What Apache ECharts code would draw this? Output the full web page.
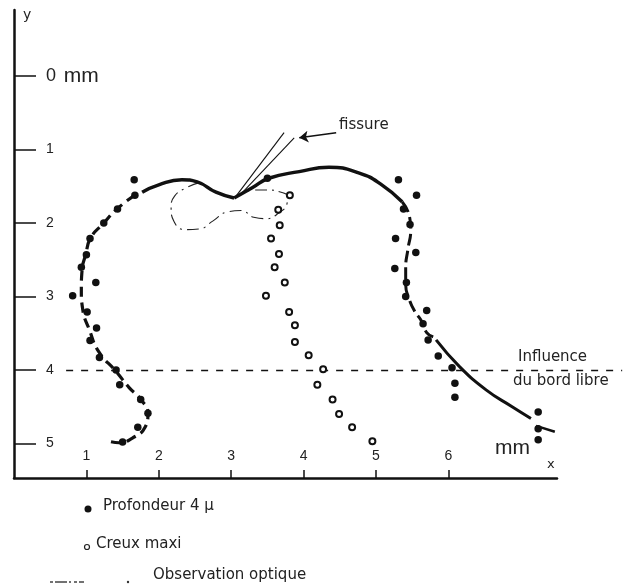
<!DOCTYPE html>
<html><head><meta charset="utf-8">
<script src="https://cdn.jsdelivr.net/npm/echarts@6/dist/echarts.min.js"></script>
<style>html,body{margin:0;padding:0;background:#fff}#c{width:623px;height:587px}</style>
</head><body><div id="c"></div>
<script>
// ---- data (x mm, y mm) ----
const xTicks = [1, 2, 3, 4, 5, 6];
const yTicks = [0, 1, 2, 3, 4, 5];
const profondeur = [[1.66,1.41],[1.67,1.62],[1.43,1.81],[1.24,2.00],[1.05,2.21],[1.00,2.43],[0.93,2.60],[1.13,2.81],[0.81,2.99],[1.01,3.21],[1.14,3.43],[1.05,3.60],[1.18,3.83],[1.41,4.00],[1.46,4.20],[1.75,4.40],[1.85,4.59],[1.71,4.78],[1.50,4.98],[3.50,1.39],[5.31,1.41],[5.56,1.62],[5.38,1.81],[5.47,2.02],[5.27,2.21],[5.55,2.40],[5.26,2.62],[5.42,2.81],[5.41,3.00],[5.70,3.19],[5.65,3.37],[5.72,3.59],[5.86,3.81],[6.05,3.97],[6.09,4.18],[6.09,4.37],[7.24,4.57],[7.24,4.80],[7.24,4.95]];
const creux = [[3.81,1.62],[3.65,1.82],[3.67,2.03],[3.55,2.21],[3.66,2.42],[3.60,2.60],[3.74,2.81],[3.48,2.99],[3.80,3.21],[3.88,3.39],[3.88,3.62],[4.07,3.80],[4.27,3.99],[4.19,4.20],[4.40,4.40],[4.49,4.60],[4.67,4.78],[4.95,4.97]];
const arcLeft = [[1.77,1.58],[2.00,1.48],[2.32,1.41],[2.53,1.44],[2.79,1.58],[3.04,1.66]];
const arcRight = [[3.04,1.66],[3.29,1.52],[3.52,1.39],[3.94,1.30],[4.35,1.24],[4.77,1.32],[5.08,1.48],[5.36,1.71]];
const leftBranch = [[1.67,1.62],[1.42,1.81],[1.24,2.00],[1.06,2.20],[0.99,2.43],[0.94,2.64],[0.93,2.91],[0.95,3.18],[1.04,3.45],[1.17,3.75],[1.41,4.02],[1.59,4.24],[1.75,4.40],[1.85,4.59],[1.81,4.78],[1.63,4.93],[1.45,4.99],[1.31,4.97]];
const rightBranch = [[5.36,1.71],[5.46,1.90],[5.48,2.09],[5.44,2.36],[5.41,2.61],[5.41,2.84],[5.46,3.04],[5.54,3.21],[5.62,3.32],[5.70,3.49],[5.79,3.55]];
const rightLower = [[5.83,3.59],[6.15,3.95],[6.52,4.27],[6.88,4.50],[7.14,4.66]];
const rightTail = [[7.21,4.76],[7.47,4.84]];
const observation = [[2.56,1.45],[2.38,1.52],[2.22,1.63],[2.17,1.79],[2.21,1.98],[2.36,2.09],[2.56,2.08],[2.75,1.97],[2.94,1.85],[3.14,1.83],[3.31,1.92],[3.49,1.94],[3.66,1.86],[3.77,1.74],[3.78,1.64],[3.69,1.58],[3.49,1.55],[3.31,1.55],[3.18,1.58]];
const fissureLines = [[[3.07,1.63],[3.73,0.77]], [[3.15,1.59],[3.87,0.84]]];
const fissureArrow = [[4.45,0.77],[3.94,0.84]];
const bordLibre = [[0.72,4],[8.4,4]];

const INK = '#111';
const chart = echarts.init(document.getElementById('c'), null, {renderer: 'canvas'});
const txt = (x, y, s, size) => ({type:'text', left:x, top:y, style:{text:s, font: size + 'px "DejaVu Sans"', fill:'#222'}});
chart.setOption({
  animation: false,
  backgroundColor: '#fff',
  grid: {left: 14, right: 66, top: 10, bottom: 109},
  xAxis: {
    type: 'value', min: 0, max: 7.5, position: 'bottom',
    axisLine: {onZero: false, lineStyle: {color: INK, width: 2.5}},
    axisTick: {inside: true, length: 8, customValues: xTicks, lineStyle: {color: INK, width: 1.5}},
    axisLabel: {inside: true, margin: 15, customValues: xTicks, color: '#222', fontSize: 14, fontFamily: 'Liberation Sans'},
    splitLine: {show: false}
  },
  yAxis: {
    type: 'value', min: -0.9, max: 5.47, inverse: true,
    axisLine: {onZero: false, lineStyle: {color: INK, width: 2.5}},
    axisTick: {inside: true, length: 22, customValues: yTicks, lineStyle: {color: INK, width: 1.5}},
    axisLabel: {inside: true, margin: 32, customValues: yTicks, color: '#222', fontSize: 14, fontFamily: 'Liberation Sans',
      formatter: v => v === 0 ? '{z|0}  {u|mm}' : String(v),
      rich: {z: {fontSize: 18, fontFamily: 'Liberation Sans', color: '#222'}, u: {fontSize: 21, fontFamily: 'Liberation Sans', color: '#222'}}},
    splitLine: {show: false}
  },
  series: [
    {type:'lines', coordinateSystem:'cartesian2d', clip: false, data: [{coords: bordLibre}], symbol:['none','none'], lineStyle:{color:'#111', width:1.3, type:[7,8], opacity:1}, z:1},
    {type:'line', data: observation, smooth: 0.5, symbol:'none', lineStyle:{color:'#222', width:1.1, type:[12,5,2,5]}},
    {type:'line', data: arcLeft, smooth: 0.5, symbol:'none', lineStyle:{color:INK, width:3.5}},
    {type:'line', data: arcRight, smooth: 0.5, symbol:'none', lineStyle:{color:INK, width:3.5}},
    {type:'line', data: leftBranch, smooth: 0.5, symbol:'none', lineStyle:{color:INK, width:3.2, type:[10,6]}},
    {type:'line', data: rightBranch, smooth: 0.5, symbol:'none', lineStyle:{color:INK, width:3, type:[12,5]}},
    {type:'line', data: rightLower, smooth: 0.5, symbol:'none', lineStyle:{color:INK, width:3}},
    {type:'line', data: rightTail, symbol:'none', lineStyle:{color:INK, width:2.5}},
    {type:'lines', coordinateSystem:'cartesian2d', data: fissureLines.map(c => ({coords: c})), lineStyle:{color:INK, width:1.1, opacity:1}, symbol:['none','none']},
    {type:'lines', coordinateSystem:'cartesian2d', data: [{coords: fissureArrow}], lineStyle:{color:INK, width:1.5, opacity:1}, symbol:['none','arrow'], symbolSize:9},
    {name:'Profondeur 4 µ', type:'scatter', data: profondeur, symbol:'circle', symbolSize:7.5, itemStyle:{color:INK, opacity:1}, z:5},
    {name:'Creux maxi', type:'scatter', data: creux, symbol:'emptyCircle', symbolSize:6, itemStyle:{color:'#111', borderColor:'#111', borderWidth:1.2, opacity:1}, z:5}
  ],
  graphic: [
    txt(23, 8, 'y', 14),
    txt(547, 458, 'x', 13),
    {type:'text', left: 495, top: 438, style:{text:'mm', font:'21px "Liberation Sans"', fill:'#222'}},
    txt(339, 118, 'fissure', 15),
    txt(518, 350, 'Influence', 15),
    txt(513, 374, 'du bord libre', 15),
    {type:'circle', shape:{cx:88, cy:509, r:3.5}, style:{fill:INK}},
    txt(103, 499, 'Profondeur 4 µ', 15),
    {type:'circle', shape:{cx:87, cy:547, r:2.5}, style:{fill:'#fff', stroke:'#222', lineWidth:1.2}},
    txt(96, 537, 'Creux maxi', 15),
    {type:'line', shape:{x1:50, y1:582, x2:84, y2:582}, style:{stroke:'#444', lineWidth:1.3, lineDash:[3,2,12,2,2,3]}},
    {type:'circle', shape:{cx:128, cy:582, r:1.2}, style:{fill:'#333'}},
    txt(153, 568, 'Observation optique', 15)
  ]
});
</script></body></html>
